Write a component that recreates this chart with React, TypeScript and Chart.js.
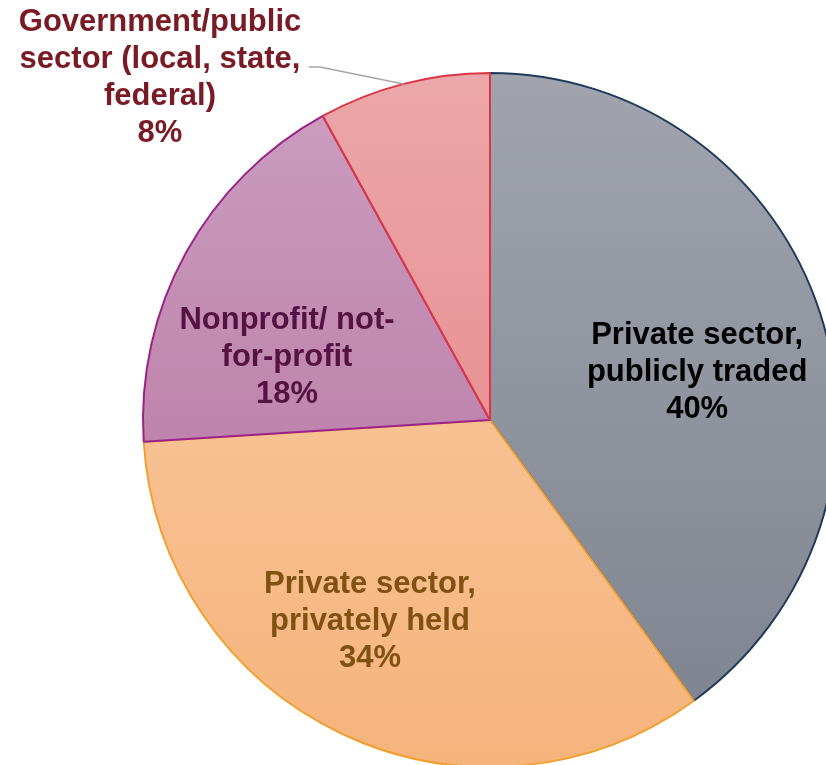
import React, { useEffect, useRef } from "react";
import { Chart, registerables } from "chart.js";

Chart.register(...registerables);

const categories = [
  "Private sector, publicly traded",
  "Private sector, privately held",
  "Nonprofit/ not-for-profit",
  "Government/public sector (local, state, federal)",
];
const values = [40, 34, 18, 8];
const labelLines = [
  ["Private sector,", "publicly traded", "40%"],
  ["Private sector,", "privately held", "34%"],
  ["Nonprofit/ not-", "for-profit", "18%"],
  ["Government/public", "sector (local, state,", "federal)", "8%"],
];

// styling
const gradTop = ["#a1a4ad", "#f9d0aa", "#cb9fc0", "#eba7a9"];
const gradBottom = ["#7c828e", "#f6b37c", "#b46b9c", "#e67d80"];
const borderColors = ["#1f3a5a", "#f0a030", "#9a2388", "#dc3546"];
const textColors = ["#000000", "#7f5212", "#561244", "#7a1a24"];
// label anchor positions in units of radius from the pie centre
const labelPos: [number, number][] = [
  [0.597, -0.144],
  [-0.346, 0.573],
  [-0.585, -0.187],
  [-0.951, -0.993],
];

const labelPlugin = {
  id: "sliceLabels",
  afterDatasetsDraw(chart: any) {
    const ctx = chart.ctx;
    const meta = chart.getDatasetMeta(0);
    const arc0 = meta.data[0];
    const cx = arc0.x;
    const cy = arc0.y;
    const r = arc0.outerRadius;
    const fontSize = 31;
    const lh = 37;
    ctx.save();
    // leader line for last slice
    const last = meta.data[3];
    const mid = (last.startAngle + last.endAngle) / 2;
    const ex = cx + Math.cos(mid) * r;
    const ey = cy + Math.sin(mid) * r;
    const gx = cx + labelPos[3][0] * r;
    const gy = cy + labelPos[3][1] * r;
    ctx.strokeStyle = "#a6a6a6";
    ctx.lineWidth = 1.5;
    ctx.beginPath();
    ctx.moveTo(gx + 149, gy - 8.5);
    ctx.lineTo(gx + 160, gy - 8.5);
    ctx.lineTo(ex, ey);
    ctx.stroke();

    ctx.font = `bold ${fontSize}px "Liberation Sans", Arial, sans-serif`;
    ctx.textAlign = "center";
    ctx.textBaseline = "alphabetic";
    labelLines.forEach((lines, i) => {
      const x = cx + labelPos[i][0] * r;
      const y = cy + labelPos[i][1] * r;
      ctx.fillStyle = textColors[i];
      const n = lines.length;
      lines.forEach((t, j) => {
        const ly = y + (j - (n - 1) / 2) * lh + 11;
        ctx.fillText(t, x, ly);
      });
    });
    ctx.restore();
  },
};

export default function App() {
  const ref = useRef<HTMLCanvasElement | null>(null);
  useEffect(() => {
    document.body.style.margin = "0";
    document.body.style.overflow = "hidden";
    const canvas = ref.current!;
    const chart = new Chart(canvas, {
      type: "pie",
      data: {
        labels: categories,
        datasets: [
          {
            data: values,
            backgroundColor: (c: any) => {
              const ch = c.chart;
              const area = ch.chartArea;
              if (!area) return gradTop[c.dataIndex];
              const g = ch.ctx.createLinearGradient(0, area.top, 0, area.bottom);
              g.addColorStop(0, gradTop[c.dataIndex]);
              g.addColorStop(1, gradBottom[c.dataIndex]);
              return g;
            },
            borderColor: borderColors,
            borderWidth: 2,
            hoverOffset: 0,
            offset: 0,
          },
        ],
      },
      options: {
        responsive: false,
        animation: false,
        devicePixelRatio: 1,
        layout: { padding: { top: 72, bottom: 72, left: 142, right: 142 } },
        plugins: {
          legend: { display: false },
          tooltip: { enabled: false },
        },
        events: [],
      },
      plugins: [labelPlugin],
    });
    return () => chart.destroy();
  }, []);
  return (
    <div
      style={{
        position: "fixed",
        left: 0,
        top: 0,
        width: 826,
        height: 765,
        overflow: "hidden",
        background: "#ffffff",
      }}
    >
      <canvas
        ref={ref}
        width={980}
        height={840}
        style={{ position: "absolute", left: 0, top: 0, width: 980, height: 840 }}
      />
    </div>
  );
}
